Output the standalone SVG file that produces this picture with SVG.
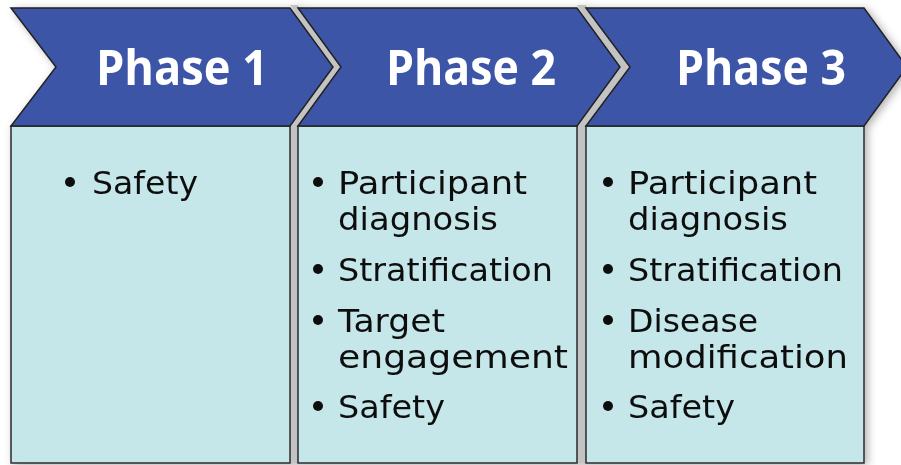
<svg xmlns="http://www.w3.org/2000/svg" width="901" height="465" viewBox="0 0 901 465">
  <defs>
    <filter id="shade" x="-5%" y="-5%" width="115%" height="115%">
      <feDropShadow dx="3" dy="2" stdDeviation="4" flood-color="#000" flood-opacity="0.3"/>
    </filter>
    <style>
      .chev { fill: #3d55a6; stroke: #222; stroke-width: 1.5; stroke-linejoin: miter; }
      .box { fill: #c5e7ea; stroke: #2b2b2b; stroke-width: 1.5; }
      .band { fill: #c3c3c3; stroke: none; }
      .head { font-family: "Open Sans", "Liberation Sans", sans-serif; font-weight: 700; font-size: 49px; fill: #ffffff; }
      .item { font-family: "DejaVu Sans", "Liberation Sans", sans-serif; font-size: 32px; fill: #111111; }
      .dot { fill: #111111; }
    </style>
  </defs>

  <rect width="901" height="465" fill="#ffffff"/>

  <g filter="url(#shade)">
    <!-- grey separators between the columns -->
    <g id="separators">
      <polygon class="band" points="290,5 333,67 290,126 290,463 298,463 298,126 341,67 298,5"/>
      <polygon class="band" points="577,5 620,67 577,126 577,463 586,463 586,126 630,67 586,5"/>
    </g>

    <g id="phase1">
      <rect class="box" x="11" y="126" width="279" height="337"/>
      <polygon class="chev" points="11,8 290,8 333,67 290,126 11,126 56,67"/>
      <text class="head" x="96" y="85" textLength="172" lengthAdjust="spacingAndGlyphs">Phase 1</text>
      <circle class="dot" cx="70" cy="182" r="5"/>
      <text class="item" x="92" y="194" textLength="106" lengthAdjust="spacingAndGlyphs">Safety</text>
    </g>

    <g id="phase2">
      <rect class="box" x="298" y="126" width="279" height="337"/>
      <polygon class="chev" points="298,8 577,8 620,67 577,126 298,126 341,67"/>
      <text class="head" x="386" y="85" textLength="170" lengthAdjust="spacingAndGlyphs">Phase 2</text>
      <circle class="dot" cx="318" cy="182" r="5"/>
      <text class="item" x="338" y="194" textLength="189" lengthAdjust="spacingAndGlyphs">Participant</text>
      <text class="item" x="338" y="230" textLength="160" lengthAdjust="spacingAndGlyphs">diagnosis</text>
      <circle class="dot" cx="318" cy="269" r="5"/>
      <text class="item" x="338" y="281" textLength="215" lengthAdjust="spacingAndGlyphs">Stratification</text>
      <circle class="dot" cx="318" cy="320" r="5"/>
      <text class="item" x="338" y="332" textLength="107" lengthAdjust="spacingAndGlyphs">Target</text>
      <text class="item" x="338" y="368" textLength="230" lengthAdjust="spacingAndGlyphs">engagement</text>
      <circle class="dot" cx="318" cy="406" r="5"/>
      <text class="item" x="338" y="418" textLength="107" lengthAdjust="spacingAndGlyphs">Safety</text>
    </g>

    <g id="phase3">
      <rect class="box" x="586" y="126" width="278" height="337"/>
      <polygon class="chev" points="586,8 864,8 907,67 864,126 586,126 630,67"/>
      <text class="head" x="676" y="85" textLength="170" lengthAdjust="spacingAndGlyphs">Phase 3</text>
      <circle class="dot" cx="608" cy="182" r="5"/>
      <text class="item" x="628" y="194" textLength="189" lengthAdjust="spacingAndGlyphs">Participant</text>
      <text class="item" x="628" y="230" textLength="160" lengthAdjust="spacingAndGlyphs">diagnosis</text>
      <circle class="dot" cx="608" cy="269" r="5"/>
      <text class="item" x="628" y="281" textLength="215" lengthAdjust="spacingAndGlyphs">Stratification</text>
      <circle class="dot" cx="608" cy="320" r="5"/>
      <text class="item" x="628" y="332" textLength="130" lengthAdjust="spacingAndGlyphs">Disease</text>
      <text class="item" x="628" y="368" textLength="220" lengthAdjust="spacingAndGlyphs">modification</text>
      <circle class="dot" cx="608" cy="406" r="5"/>
      <text class="item" x="628" y="418" textLength="107" lengthAdjust="spacingAndGlyphs">Safety</text>
    </g>
  </g>
</svg>
